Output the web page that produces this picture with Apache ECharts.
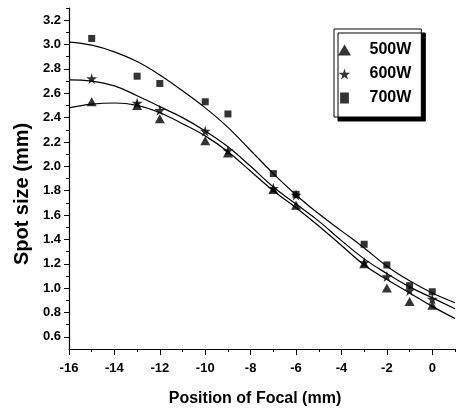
<!DOCTYPE html>
<html>
<head>
<meta charset="utf-8">
<script src="https://cdn.jsdelivr.net/npm/echarts@6/dist/echarts.min.js"></script>
<style>
  html, body { margin: 0; padding: 0; background: #fff; }
  #chart-container { width: 458px; height: 412px; }
</style>
</head>
<body>
<div id="chart-container"></div>
<script>
// measured points (position of focal, mm)
var xPoints = [-15, -13, -12, -10, -9, -7, -6, -3, -2, -1, 0];
var spot500 = [2.53, 2.50, 2.39, 2.21, 2.11, 1.81, 1.68, 1.20, 1.00, 0.89, 0.86];
var spot600 = [2.72, 2.52, 2.46, 2.29, 2.13, 1.82, 1.765, 1.21, 1.095, 0.98, 0.91];
var spot700 = [3.05, 2.74, 2.68, 2.53, 2.43, 1.94, 1.77, 1.36, 1.19, 1.02, 0.97];

// fitted curves at each integer position
var xFit = [-16, -15, -14, -13, -12, -11, -10, -9, -8, -7, -6, -5, -4, -3, -2, -1, 0, 1];
var fit500 = [2.48, 2.51, 2.52, 2.50, 2.44, 2.35, 2.25, 2.12, 1.96, 1.80, 1.66, 1.51, 1.35, 1.19, 1.07, 0.96, 0.85, 0.75];
var fit600 = [2.71, 2.70, 2.66, 2.58, 2.49, 2.40, 2.29, 2.16, 2.00, 1.83, 1.69, 1.55, 1.39, 1.24, 1.12, 1.01, 0.92, 0.83];
var fit700 = [3.02, 2.995, 2.94, 2.86, 2.75, 2.62, 2.48, 2.32, 2.13, 1.94, 1.765, 1.61, 1.47, 1.33, 1.18, 1.06, 0.96, 0.88];

var xMajor = [-16, -14, -12, -10, -8, -6, -4, -2, 0];
var xMinor = [-15, -13, -11, -9, -7, -5, -3, -1, 1];
var yMajor = [0.6, 0.8, 1.0, 1.2, 1.4, 1.6, 1.8, 2.0, 2.2, 2.4, 2.6, 2.8, 3.0, 3.2];
var yMinor = [0.7, 0.9, 1.1, 1.3, 1.5, 1.7, 1.9, 2.1, 2.3, 2.5, 2.7, 2.9, 3.1, 3.3];

var starPath = 'path://M50,0 L61,35 L98,35 L68,57 L79,91 L50,70 L21,91 L32,57 L2,35 L39,35 Z';
var triPath = 'path://M6.5,0 L13,11 L0,11 Z';
var boxPath = 'path://M0,0 L8,0 L8,10 L0,10 Z';

function pairs(xs, ys) {
  return xs.map(function (x, i) { return [x, ys[i]]; });
}

var dom = document.getElementById('chart-container');
var myChart = echarts.init(dom, null, { renderer: 'canvas' });

var font = 'Liberation Sans, Arial, sans-serif';
var black = '#000';

var option = {
  backgroundColor: '#fff',
  animation: false,
  grid: { left: 69, right: 3, top: 8, bottom: 63, containLabel: false },
  // y title sits a bit below the middle of the axis in the original
  graphic: [
    {
      type: 'text',
      x: 22,
      y: 194,
      rotation: Math.PI / 2,
      style: {
        text: 'Spot size (mm)',
        fill: black,
        font: 'bold 20px Liberation Sans, Arial, sans-serif',
        align: 'center',
        verticalAlign: 'middle'
      }
    }
  ],
  legend: {
    orient: 'vertical',
    left: 334,
    top: 29,
    data: [
      { name: '500W', icon: triPath },
      { name: '600W', icon: starPath },
      { name: '700W', icon: boxPath }
    ],
    itemWidth: 40,
    itemHeight: 11,
    itemGap: 8,
    padding: [13, 10, 11, 4],
    borderColor: black,
    borderWidth: 1,
    backgroundColor: '#fff',
    shadowColor: black,
    shadowBlur: 0,
    shadowOffsetX: 4,
    shadowOffsetY: 4,
    textStyle: { color: black, fontFamily: font, fontWeight: 'bold', fontSize: 16 }
  },
  xAxis: [
    {
      type: 'value',
      min: -16,
      max: 1,
      position: 'bottom',
      name: 'Position of Focal (mm)',
      nameLocation: 'middle',
      nameGap: 42,
      nameTextStyle: { color: black, fontFamily: font, fontWeight: 'bold', fontSize: 16, padding: [0, 14, 0, 0] },
      axisLine: { onZero: false, lineStyle: { color: black, width: 1 } },
      axisTick: { customValues: xMajor, length: 6, inside: false, lineStyle: { color: black } },
      axisLabel: { customValues: xMajor, margin: 13, color: black, fontFamily: font, fontWeight: 'bold', fontSize: 13 },
      splitLine: { show: false }
    },
    {
      type: 'value',
      min: -16,
      max: 1,
      position: 'bottom',
      axisLine: { show: false, onZero: false },
      axisTick: { customValues: xMinor, length: 3, lineStyle: { color: black } },
      axisLabel: { show: false },
      splitLine: { show: false }
    }
  ],
  yAxis: [
    {
      type: 'value',
      min: 0.5,
      max: 3.3,
      position: 'left',
      axisLine: { show: true, onZero: false, lineStyle: { color: black, width: 1.2 } },
      axisTick: { show: true, customValues: yMajor, length: 5, lineStyle: { color: black } },
      axisLabel: {
        customValues: yMajor,
        margin: 8,
        color: black,
        fontFamily: font,
        fontWeight: 'bold',
        fontSize: 13,
        formatter: function (v) { return v.toFixed(1); }
      },
      splitLine: { show: false }
    },
    {
      type: 'value',
      min: 0.5,
      max: 3.3,
      position: 'left',
      axisLine: { show: false, onZero: false },
      axisTick: { show: true, customValues: yMinor, length: 3, lineStyle: { color: black } },
      axisLabel: { show: false },
      splitLine: { show: false }
    }
  ],
  series: [
    {
      name: '500W', type: 'scatter', symbol: 'triangle', symbolSize: [10, 9],
      itemStyle: { color: black }, data: pairs(xPoints, spot500), z: 3
    },
    {
      name: '600W', type: 'scatter', symbol: starPath, symbolSize: 11,
      itemStyle: { color: black }, data: pairs(xPoints, spot600), z: 3
    },
    {
      name: '700W', type: 'scatter', symbol: 'rect', symbolSize: [7, 7],
      itemStyle: { color: black }, data: pairs(xPoints, spot700), z: 3
    },
    {
      name: 'fit500', type: 'line', smooth: 0.4, showSymbol: false,
      lineStyle: { color: black, width: 1.2 }, data: pairs(xFit, fit500)
    },
    {
      name: 'fit600', type: 'line', smooth: 0.4, showSymbol: false,
      lineStyle: { color: black, width: 1.2 }, data: pairs(xFit, fit600)
    },
    {
      name: 'fit700', type: 'line', smooth: 0.4, showSymbol: false,
      lineStyle: { color: black, width: 1.2 }, data: pairs(xFit, fit700)
    }
  ]
};

myChart.setOption(option);
window.addEventListener('resize', myChart.resize);
</script>
</body>
</html>
